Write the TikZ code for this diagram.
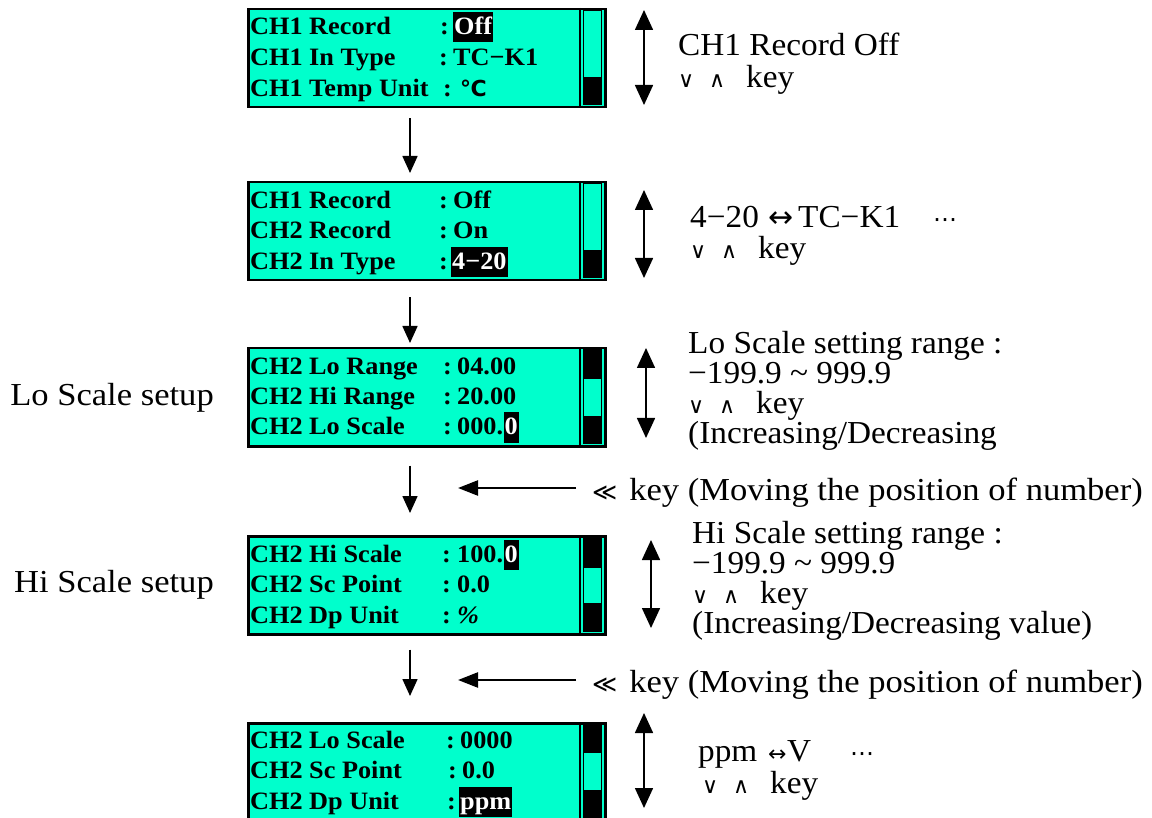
\documentclass[tikz,border=0pt]{standalone}
\usepackage{fontspec}
\setmainfont{Liberation Serif}
\newfontfamily\lcdfont[FakeStretch=1.05]{Liberation Serif}
\newfontfamily\txtfont[FakeStretch=1.04]{Liberation Serif}
\newfontfamily\labfont[FakeStretch=1.08]{Liberation Serif}
\newfontfamily\symfont{DejaVu Sans}
\usetikzlibrary{arrows.meta}
\definecolor{lcd}{HTML}{00FFCC}
\newcommand\symsz[2]{{\symfont\fontsize{#1}{#1}\selectfont #2}}
\newcommand\vkey{\makebox[31pt][l]{\symsz{22}{∨}}\makebox[37pt][l]{\symsz{22}{∧}}key}
\begin{document}
\begin{tikzpicture}[x=1pt,y=-1pt,
  panel/.style={draw=black, line width=2.5pt, fill=lcd, minimum width=357pt, minimum height=98pt, inner sep=0pt, anchor=north west},
  lt/.style={font=\lcdfont\bfseries\fontsize{25}{25}\selectfont, anchor=base west, inner sep=0pt},
  hl/.style={lt, fill=black, text=white, inner xsep=1pt, inner ysep=1.5pt, text height=21pt, text depth=6pt},
  rt/.style={font=\labfont\fontsize{32}{32}\selectfont, anchor=base west, inner sep=0pt},
  rtm/.style={font=\txtfont\fontsize{32}{#1}\selectfont, anchor=base west, inner sep=0pt, align=left},
  lab/.style={font=\labfont\fontsize{32}{32}\selectfont, anchor=base east, inner sep=0pt},
  dn/.style={line width=1.6pt, -{Triangle[length=17pt,width=15pt]}},
  la/.style={line width=2.4pt, -{Triangle[length=20pt,width=15pt]}},
  ud/.style={line width=1.6pt, {Triangle[length=20pt,width=18pt]}-{Triangle[length=20pt,width=18pt]}},
  thumb/.style={fill=black}
]
\useasboundingbox (0,0) rectangle (1152,818);
% panels
\node[panel] (p1) at (247,8) {};
\node[panel] (p2) at (247,181) {};
\node[panel] (p3) at (247,347) {};
\node[panel] (p4) at (247,535) {};
\node[panel] (p5) at (247,722) {};
% scrollbars
\foreach \t in {8,181,347,535,722}{
  \draw[line width=0.6pt] (583,\t+2.5) rectangle (601,\t+96);
}
\fill[thumb] (583,77) rectangle (601,105);
\fill[thumb] (583,250) rectangle (601,278);
\fill[thumb] (583,350) rectangle (601,379);
\fill[thumb] (583,416) rectangle (601,444);
\fill[thumb] (583,537) rectangle (601,568);
\fill[thumb] (583,603) rectangle (601,632);
\fill[thumb] (583,724) rectangle (601,753);
\fill[thumb] (583,790) rectangle (601,820);
\foreach \t in {8,181,347,535,722}{
  \draw[line width=2pt] (580,\t) -- (580,\t+98);
}
% panel 1
\node[lt] (a1) at (250,35) {CH1 Record};
\node[lt] (a1c) at (440,35) {:};
\node[hl] (a1v) at (453,35) {Off};
\node[lt] (a2) at (250,66) {CH1 In Type};
\node[lt] (a2c) at (439,66) {:};
\node[lt] (a2v) at (453,66) {TC−K1};
\node[lt] (a3) at (250,97) {CH1 Temp Unit};
\node[lt] (a3c) at (443,97) {:};
\node[lt] (a3v) at (460,97) {{\symfont\bfseries\fontsize{22}{22}\selectfont ℃}};
% panel 2
\node[lt] (b1) at (250,209) {CH1 Record};
\node[lt] (b1c) at (439,209) {:};
\node[lt] (b1v) at (453,209) {Off};
\node[lt] (b2) at (250,239) {CH2 Record};
\node[lt] (b2c) at (439,239) {:};
\node[lt] (b2v) at (453,239) {On};
\node[lt] (b3) at (250,270) {CH2 In Type};
\node[lt] (b3c) at (439,270) {:};
\node[hl] (b3v) at (451,270) {4−20};
% panel 3
\node[lt] (c1) at (250,375) {CH2 Lo Range};
\node[lt] (c1c) at (443,375) {:};
\node[lt] (c1v) at (457,375) {04.00};
\node[lt] (c2) at (250,405) {CH2 Hi Range};
\node[lt] (c2c) at (443,405) {:};
\node[lt] (c2v) at (457,405) {20.00};
\node[lt] (c3) at (250,435) {CH2 Lo Scale};
\node[lt] (c3c) at (443,435) {:};
\node[lt] (c3v) at (457,435) {000.};
\node[hl, anchor=base west] (c3h) at (c3v.base east) {0};
% panel 4
\node[lt] (d1) at (250,562) {CH2 Hi Scale};
\node[lt] (d1c) at (442,562) {:};
\node[lt] (d1v) at (457,562) {100.};
\node[hl, anchor=base west] (d1h) at (d1v.base east) {0};
\node[lt] (d2) at (250,592) {CH2 Sc Point};
\node[lt] (d2c) at (442,592) {:};
\node[lt] (d2v) at (457,592) {0.0};
\node[lt] (d3) at (250,623) {CH2 Dp Unit};
\node[lt] (d3c) at (442,623) {:};
\node[lt] (d3v) at (457,623) {\itshape\%};
% panel 5
\node[lt] (e1) at (250,748) {CH2 Lo Scale};
\node[lt] (e1c) at (446,748) {:};
\node[lt] (e1v) at (460,748) {0000};
\node[lt] (e2) at (250,778) {CH2 Sc Point};
\node[lt] (e2c) at (448,778) {:};
\node[lt] (e2v) at (462,778) {0.0};
\node[lt] (e3) at (250,809) {CH2 Dp Unit};
\node[lt] (e3c) at (447,809) {:};
\node[hl] (e3v) at (459,809) {ppm};
% down connectors
\coordinate (ax) at (410,0);
\draw[dn, shorten <=10pt, shorten >=8pt] (p1.south -| ax) -- (p2.north -| ax);
\draw[dn, shorten <=16pt, shorten >=4pt] (p2.south -| ax) -- (p3.north -| ax);
\draw[dn, shorten <=18pt, shorten >=22pt] (p3.south -| ax) -- (p4.north -| ax);
\draw[dn, shorten <=14pt, shorten >=26pt] (p4.south -| ax) -- (p5.north -| ax);
% right up/down arrows
\coordinate (u1a) at (644,10);  \coordinate (u1b) at (644,105);
\coordinate (u2a) at (644,190); \coordinate (u2b) at (644,278);
\coordinate (u3a) at (646,348); \coordinate (u3b) at (646,438);
\coordinate (u4a) at (651,540); \coordinate (u4b) at (651,628);
\coordinate (u5a) at (644,713); \coordinate (u5b) at (644,808);
\draw[ud] (u1a) -- (u1b);
\draw[ud] (u2a) -- (u2b);
\draw[ud] (u3a) -- (u3b);
\draw[ud] (u4a) -- (u4b);
\draw[ud] (u5a) -- (u5b);
% right texts (anchored at the baseline of the last line)
\node[rtm=32] (r1) at (678,88) {CH1 Record Off\\\vkey};
\node[rtm=31] (r2) at (690,259) {\makebox[78pt][l]{4−20}\makebox[30pt][l]{\symsz{30}{↔}}\makebox[135pt][l]{TC−K1}\symsz{24}{⋯}\\\vkey};
\node[rtm=30] (r3) at (688,443) {Lo Scale setting range :\\−199.9 \textasciitilde{} 999.9\\\vkey\\(Increasing/Decreasing};
\node[rtm=30] (r4) at (692,633) {Hi Scale setting range :\\−199.9 \textasciitilde{} 999.9\\\vkey\\(Increasing/Decreasing value)};
\node[rtm=32] (r5) at (698,793) {\makebox[70pt][l]{ppm}\makebox[19pt][l]{\symsz{22}{↔}}\makebox[63pt][l]{V}\symsz{24}{⋯}\\\hspace*{4pt}\vkey};
% key texts and left arrows
\node[rt] (k1) at (592,500) {\symsz{24}{≪}\hspace{12pt}key (Moving the position of number)};
\node[rt] (k2) at (592,692) {\symsz{24}{≪}\hspace{12pt}key (Moving the position of number)};
\coordinate (l1) at (458,488);
\coordinate (l2) at (458,680);
\draw[la] (k1.base west |- l1) ++(-16,0) -- (l1);
\draw[la] (k2.base west |- l2) ++(-16,0) -- (l2);
% left labels
\node[lab] (lo) at (214,406) {Lo Scale setup};
\node[lab] (hi) at (214,592) {Hi Scale setup};
\end{tikzpicture}
\end{document}
